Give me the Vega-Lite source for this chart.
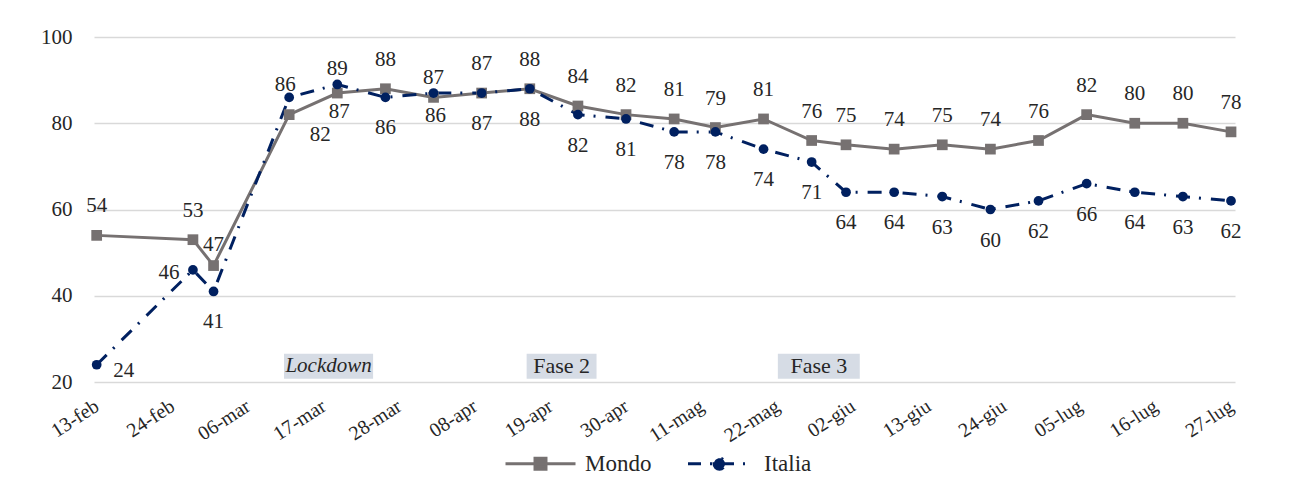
{
  "$schema": "https://vega.github.io/schema/vega-lite/v6.json",
  "width": 1141,
  "height": 345,
  "autosize": "none",
  "padding": {"left": 94, "top": 37, "right": 56, "bottom": 112},
  "background": "white",
  "config": {
    "view": {"stroke": null},
    "font": "Liberation Serif"
  },
  "datasets": {
    "serie": [
      {"data": "2020-02-13", "serie": "Mondo", "valore": 54},
      {"data": "2020-02-27", "serie": "Mondo", "valore": 53},
      {"data": "2020-03-01", "serie": "Mondo", "valore": 47},
      {"data": "2020-03-12", "serie": "Mondo", "valore": 82},
      {"data": "2020-03-19", "serie": "Mondo", "valore": 87},
      {"data": "2020-03-26", "serie": "Mondo", "valore": 88},
      {"data": "2020-04-02", "serie": "Mondo", "valore": 86},
      {"data": "2020-04-09", "serie": "Mondo", "valore": 87},
      {"data": "2020-04-16", "serie": "Mondo", "valore": 88},
      {"data": "2020-04-23", "serie": "Mondo", "valore": 84},
      {"data": "2020-04-30", "serie": "Mondo", "valore": 82},
      {"data": "2020-05-07", "serie": "Mondo", "valore": 81},
      {"data": "2020-05-13", "serie": "Mondo", "valore": 79},
      {"data": "2020-05-20", "serie": "Mondo", "valore": 81},
      {"data": "2020-05-27", "serie": "Mondo", "valore": 76},
      {"data": "2020-06-01", "serie": "Mondo", "valore": 75},
      {"data": "2020-06-08", "serie": "Mondo", "valore": 74},
      {"data": "2020-06-15", "serie": "Mondo", "valore": 75},
      {"data": "2020-06-22", "serie": "Mondo", "valore": 74},
      {"data": "2020-06-29", "serie": "Mondo", "valore": 76},
      {"data": "2020-07-06", "serie": "Mondo", "valore": 82},
      {"data": "2020-07-13", "serie": "Mondo", "valore": 80},
      {"data": "2020-07-20", "serie": "Mondo", "valore": 80},
      {"data": "2020-07-27", "serie": "Mondo", "valore": 78},
      {"data": "2020-02-13", "serie": "Italia", "valore": 24},
      {"data": "2020-02-27", "serie": "Italia", "valore": 46},
      {"data": "2020-03-01", "serie": "Italia", "valore": 41},
      {"data": "2020-03-12", "serie": "Italia", "valore": 86},
      {"data": "2020-03-19", "serie": "Italia", "valore": 89},
      {"data": "2020-03-26", "serie": "Italia", "valore": 86},
      {"data": "2020-04-02", "serie": "Italia", "valore": 87},
      {"data": "2020-04-09", "serie": "Italia", "valore": 87},
      {"data": "2020-04-16", "serie": "Italia", "valore": 88},
      {"data": "2020-04-23", "serie": "Italia", "valore": 82},
      {"data": "2020-04-30", "serie": "Italia", "valore": 81},
      {"data": "2020-05-07", "serie": "Italia", "valore": 78},
      {"data": "2020-05-13", "serie": "Italia", "valore": 78},
      {"data": "2020-05-20", "serie": "Italia", "valore": 74},
      {"data": "2020-05-27", "serie": "Italia", "valore": 71},
      {"data": "2020-06-01", "serie": "Italia", "valore": 64},
      {"data": "2020-06-08", "serie": "Italia", "valore": 64},
      {"data": "2020-06-15", "serie": "Italia", "valore": 63},
      {"data": "2020-06-22", "serie": "Italia", "valore": 60},
      {"data": "2020-06-29", "serie": "Italia", "valore": 62},
      {"data": "2020-07-06", "serie": "Italia", "valore": 66},
      {"data": "2020-07-13", "serie": "Italia", "valore": 64},
      {"data": "2020-07-20", "serie": "Italia", "valore": 63},
      {"data": "2020-07-27", "serie": "Italia", "valore": 62}
    ],
    "fasi": [
      {"testo": "Lockdown", "inizio": "2020-03-11T06:00:00Z", "fine": "2020-03-24T05:00:00Z", "basso": 20.75, "alto": 26.55},
      {"testo": "Fase 2", "inizio": "2020-04-15T13:00:00Z", "fine": "2020-04-25T17:00:00Z", "basso": 20.75, "alto": 26.55},
      {"testo": "Fase 3", "inizio": "2020-05-22T02:00:00Z", "fine": "2020-06-03T00:00:00Z", "basso": 20.75, "alto": 26.55}
    ]
  },
  "encoding": {
    "x": {
      "field": "data",
      "type": "temporal",
      "title": null,
      "scale": {"type": "utc", "domain": [1581518304000, 1595858112000]},
      "axis": {
        "values": [1581552000000, 1582502400000, 1583452800000, 1584403200000, 1585353600000, 1586304000000, 1587254400000, 1588204800000, 1589155200000, 1590105600000, 1591056000000, 1592006400000, 1592956800000, 1593907200000, 1594857600000, 1595808000000],
        "labelExpr": "utcFormat(datum.value, '%d') + '-' + ['gen','feb','mar','apr','mag','giu','lug','ago','set','ott','nov','dic'][utcmonth(datum.value)]",
        "labelAngle": -33,
        "labelAlign": "right",
        "labelBaseline": "middle",
        "labelPadding": 22,
        "labelFont": "Liberation Serif",
        "labelFontSize": 20,
        "labelColor": "#262626",
        "labelOverlap": false,
        "labelBound": false,
        "labelFlush": false,
        "grid": false,
        "ticks": false,
        "domain": false
      }
    },
    "y": {
      "field": "valore",
      "type": "quantitative",
      "title": null,
      "scale": {"domain": [20, 100], "nice": false, "zero": false},
      "axis": {
        "values": [20, 40, 60, 80, 100],
        "labelFont": "Liberation Serif",
        "labelFontSize": 21,
        "labelColor": "#262626",
        "labelPadding": 22,
        "grid": true,
        "gridColor": "#d9d9d9",
        "gridWidth": 1.5,
        "ticks": false,
        "domain": false
      }
    }
  },
  "layer": [
    {
      "data": {"name": "fasi"},
      "mark": {"type": "rect", "color": "#d6dce5"},
      "encoding": {
        "x": {"field": "inizio", "type": "temporal"},
        "x2": {"field": "fine"},
        "y": {"field": "basso", "type": "quantitative"},
        "y2": {"field": "alto"}
      }
    },
    {
      "data": {"name": "fasi"},
      "transform": [
        {"calculate": "(time(datum.inizio) + time(datum.fine)) / 2", "as": "centro"},
        {"calculate": "(datum.basso + datum.alto) / 2", "as": "medio"},
        {"filter": "datum.testo !== 'Lockdown'"}
      ],
      "mark": {"type": "text", "font": "Liberation Serif", "fontSize": 22, "color": "#262626", "baseline": "middle", "align": "center"},
      "encoding": {
        "x": {"field": "centro", "type": "temporal"},
        "y": {"field": "medio", "type": "quantitative"},
        "text": {"field": "testo"}
      }
    },
    {
      "data": {"name": "fasi"},
      "transform": [
        {"calculate": "(time(datum.inizio) + time(datum.fine)) / 2", "as": "centro"},
        {"calculate": "(datum.basso + datum.alto) / 2", "as": "medio"},
        {"filter": "datum.testo === 'Lockdown'"}
      ],
      "mark": {"type": "text", "font": "Liberation Serif", "fontSize": 21, "fontStyle": "italic", "color": "#262626", "baseline": "middle", "align": "center"},
      "encoding": {
        "x": {"field": "centro", "type": "temporal"},
        "y": {"field": "medio", "type": "quantitative"},
        "text": {"field": "testo"}
      }
    },
    {
      "data": {"name": "serie"},
      "encoding": {
        "color": {
          "field": "serie",
          "type": "nominal",
          "scale": {"domain": ["Mondo", "Italia"], "range": ["#767171", "#002060"]},
          "legend": {
            "title": null,
            "orient": "none",
            "direction": "horizontal",
            "legendX": 410,
            "legendY": 390,
            "padding": 0,
            "symbolSize": 4900,
            "symbolStrokeWidth": 3,
            "labelFont": "Liberation Serif",
            "labelFontSize": 23,
            "labelColor": "#262626",
            "labelOffset": 8,
            "columnPadding": 30,
            "encode": {
              "symbols": {
                "update": {
                  "shape": {"signal": "datum.value === 'Mondo' ? 'M-1,0H1M-0.157,-0.157H0.157V0.157H-0.157Z' : 'M-0.9,0H0.9M-0.157,0A0.157,0.157 0 1,0 0.157,0A0.157,0.157 0 1,0 -0.157,0'"},
                  "size": {"value": 4900},
                  "strokeDash": {"signal": "datum.value === 'Mondo' ? [1, 0] : [13, 9, 2, 9]"},
                  "fill": {"signal": "datum.value === 'Mondo' ? '#767171' : '#002060'"},
                  "stroke": {"signal": "datum.value === 'Mondo' ? '#767171' : '#002060'"},
                  "fillOpacity": {"value": 1},
                  "strokeOpacity": {"value": 1},
                  "opacity": {"value": 1},
                  "strokeWidth": {"value": 3}
                }
              }
            }
          }
        }
      },
      "layer": [
        {
          "transform": [{"filter": "datum.serie === 'Mondo'"}],
          "mark": {"type": "line", "strokeWidth": 3}
        },
        {
          "transform": [{"filter": "datum.serie === 'Italia'"}],
          "mark": {"type": "line", "strokeWidth": 3, "strokeDash": [14, 9, 2, 10]}
        },
        {
          "transform": [{"filter": "datum.serie === 'Mondo'"}],
          "mark": {"type": "point", "shape": "square", "size": 115, "filled": true, "opacity": 1}
        },
        {
          "transform": [{"filter": "datum.serie === 'Italia'"}],
          "mark": {"type": "point", "shape": "circle", "size": 95, "filled": true, "opacity": 1}
        },
        {
          "transform": [{"filter": "datum.serie === 'Mondo' && indexof([201, 212, 219, 302], utcmonth(datum.data) * 100 + utcdate(datum.data)) < 0"}],
          "mark": {"type": "text", "font": "Liberation Serif", "fontSize": 21, "baseline": "middle", "align": "center", "dy": -29},
          "encoding": {"text": {"field": "valore"}, "color": {"value": "#262626"}}
        },
        {
          "transform": [{"filter": "datum.serie === 'Mondo' && utcmonth(datum.data) * 100 + utcdate(datum.data) === 201"}],
          "mark": {"type": "text", "font": "Liberation Serif", "fontSize": 21, "baseline": "middle", "align": "center", "dy": -21},
          "encoding": {"text": {"field": "valore"}, "color": {"value": "#262626"}}
        },
        {
          "transform": [{"filter": "datum.serie === 'Mondo' && utcmonth(datum.data) * 100 + utcdate(datum.data) === 212"}],
          "mark": {"type": "text", "font": "Liberation Serif", "fontSize": 21, "baseline": "middle", "align": "center", "dx": 31, "dy": 20},
          "encoding": {"text": {"field": "valore"}, "color": {"value": "#262626"}}
        },
        {
          "transform": [{"filter": "datum.serie === 'Mondo' && indexof([219, 302], utcmonth(datum.data) * 100 + utcdate(datum.data)) >= 0"}],
          "mark": {"type": "text", "font": "Liberation Serif", "fontSize": 21, "baseline": "middle", "align": "center", "dx": 2, "dy": 19},
          "encoding": {"text": {"field": "valore"}, "color": {"value": "#262626"}}
        },
        {
          "transform": [{"filter": "datum.serie === 'Italia' && indexof([113, 127, 212, 219, 302], utcmonth(datum.data) * 100 + utcdate(datum.data)) < 0"}],
          "mark": {"type": "text", "font": "Liberation Serif", "fontSize": 21, "baseline": "middle", "align": "center", "dy": 31},
          "encoding": {"text": {"field": "valore"}, "color": {"value": "#262626"}}
        },
        {
          "transform": [{"filter": "datum.serie === 'Italia' && utcmonth(datum.data) * 100 + utcdate(datum.data) === 113"}],
          "mark": {"type": "text", "font": "Liberation Serif", "fontSize": 21, "baseline": "middle", "align": "center", "dx": 27, "dy": 6},
          "encoding": {"text": {"field": "valore"}, "color": {"value": "#262626"}}
        },
        {
          "transform": [{"filter": "datum.serie === 'Italia' && utcmonth(datum.data) * 100 + utcdate(datum.data) === 127"}],
          "mark": {"type": "text", "font": "Liberation Serif", "fontSize": 21, "baseline": "middle", "align": "center", "dx": -24, "dy": 3},
          "encoding": {"text": {"field": "valore"}, "color": {"value": "#262626"}}
        },
        {
          "transform": [{"filter": "datum.serie === 'Italia' && utcmonth(datum.data) * 100 + utcdate(datum.data) === 212"}],
          "mark": {"type": "text", "font": "Liberation Serif", "fontSize": 21, "baseline": "middle", "align": "center", "dx": -4, "dy": -12},
          "encoding": {"text": {"field": "valore"}, "color": {"value": "#262626"}}
        },
        {
          "transform": [{"filter": "datum.serie === 'Italia' && indexof([219, 302], utcmonth(datum.data) * 100 + utcdate(datum.data)) >= 0"}],
          "mark": {"type": "text", "font": "Liberation Serif", "fontSize": 21, "baseline": "middle", "align": "center", "dy": -15},
          "encoding": {"text": {"field": "valore"}, "color": {"value": "#262626"}}
        }
      ]
    }
  ]
}
